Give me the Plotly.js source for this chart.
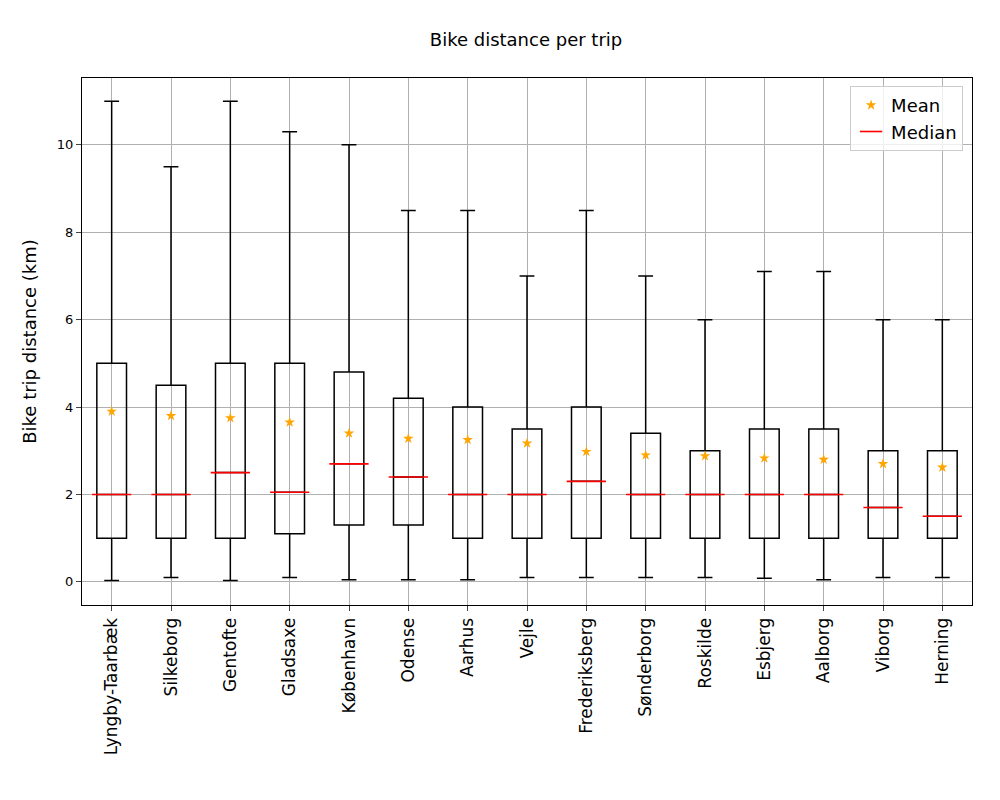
<!DOCTYPE html>
<html>
<head>
<meta charset="utf-8">
<script src="https://cdn.plot.ly/plotly-3.0.1.min.js"></script>
</head>
<body style="margin:0">
<div id="chart" style="width:1000px;height:800px"></div>
<script>
const cities = ['Lyngby-Taarbæk', 'Silkeborg', 'Gentofte', 'Gladsaxe', 'København', 'Odense', 'Aarhus', 'Vejle',
    'Frederiksberg', 'Sønderborg', 'Roskilde', 'Esbjerg', 'Aalborg', 'Viborg', 'Herning'];
const lowWhisker = [0.03, 0.1, 0.03, 0.1, 0.05, 0.05, 0.05, 0.1, 0.1, 0.1, 0.1, 0.08, 0.05, 0.1, 0.1];
const q1 = [1, 1, 1, 1.1, 1.3, 1.3, 1, 1, 1, 1, 1, 1, 1, 1, 1];
const median = [2, 2, 2.5, 2.05, 2.7, 2.4, 2, 2, 2.3, 2, 2, 2, 2, 1.7, 1.5];
const q3 = [5, 4.5, 5, 5, 4.8, 4.2, 4, 3.5, 4, 3.4, 3, 3.5, 3.5, 3, 3];
const highWhisker = [11, 9.5, 11, 10.3, 10, 8.5, 8.5, 7, 8.5, 7, 6, 7.1, 7.1, 6, 6];
const mean = [3.9, 3.8, 3.75, 3.65, 3.4, 3.28, 3.25, 3.17, 2.98, 2.9, 2.88, 2.83, 2.8, 2.7, 2.62];

const boxes = {
    type: 'box',
    x: cities,
    q1: q1,
    median: median,
    q3: q3,
    lowerfence: lowWhisker,
    upperfence: highWhisker,
    width: 0.5,
    whiskerwidth: 0.5,
    fillcolor: 'rgba(0,0,0,0)',
    line: {color: 'black', width: 1.5},
    hoverinfo: 'skip',
    showlegend: false
};
const meanTrace = {
    type: 'scatter',
    mode: 'markers',
    x: cities,
    y: mean,
    name: 'Mean',
    marker: {symbol: 'star', color: 'orange', size: 8}
};
const medianTrace = {
    type: 'scatter',
    mode: 'markers',
    x: cities,
    y: median,
    name: 'Median',
    marker: {symbol: 'line-ew', size: 28, line: {color: 'red', width: 1.6}}
};

const layout = {
    width: 1000,
    height: 800,
    margin: {l: 82, r: 28, t: 78, b: 195},
    paper_bgcolor: 'white',
    plot_bgcolor: 'white',
    font: {family: 'DejaVu Sans', color: 'black'},
    title: {text: 'Bike distance per trip', x: 0.526, y: 0.958, font: {size: 18}},
    xaxis: {
        type: 'category',
        range: [-0.5, 14.5],
        tickangle: -90,
        tickfont: {size: 17},
        showgrid: true,
        gridcolor: '#b0b0b0',
        showline: true,
        mirror: true,
        linecolor: 'black',
        ticks: 'outside',
        ticklen: 5
    },
    yaxis: {
        title: {text: 'Bike trip distance (km)', font: {size: 18}},
        range: [-0.53, 11.53],
        tickvals: [0, 2, 4, 6, 8, 10],
        tickfont: {size: 13},
        showgrid: true,
        gridcolor: '#b0b0b0',
        zeroline: false,
        showline: true,
        mirror: true,
        linecolor: 'black',
        ticks: 'outside',
        ticklen: 5
    },
    legend: {
        x: 0.99, y: 0.985, xanchor: 'right', yanchor: 'top',
        bordercolor: '#cccccc', borderwidth: 1,
        bgcolor: 'rgba(255,255,255,0.8)',
        font: {size: 18}
    }
};

Plotly.newPlot('chart', [boxes, meanTrace, medianTrace], layout, {displayModeBar: false});
</script>
</body>
</html>
